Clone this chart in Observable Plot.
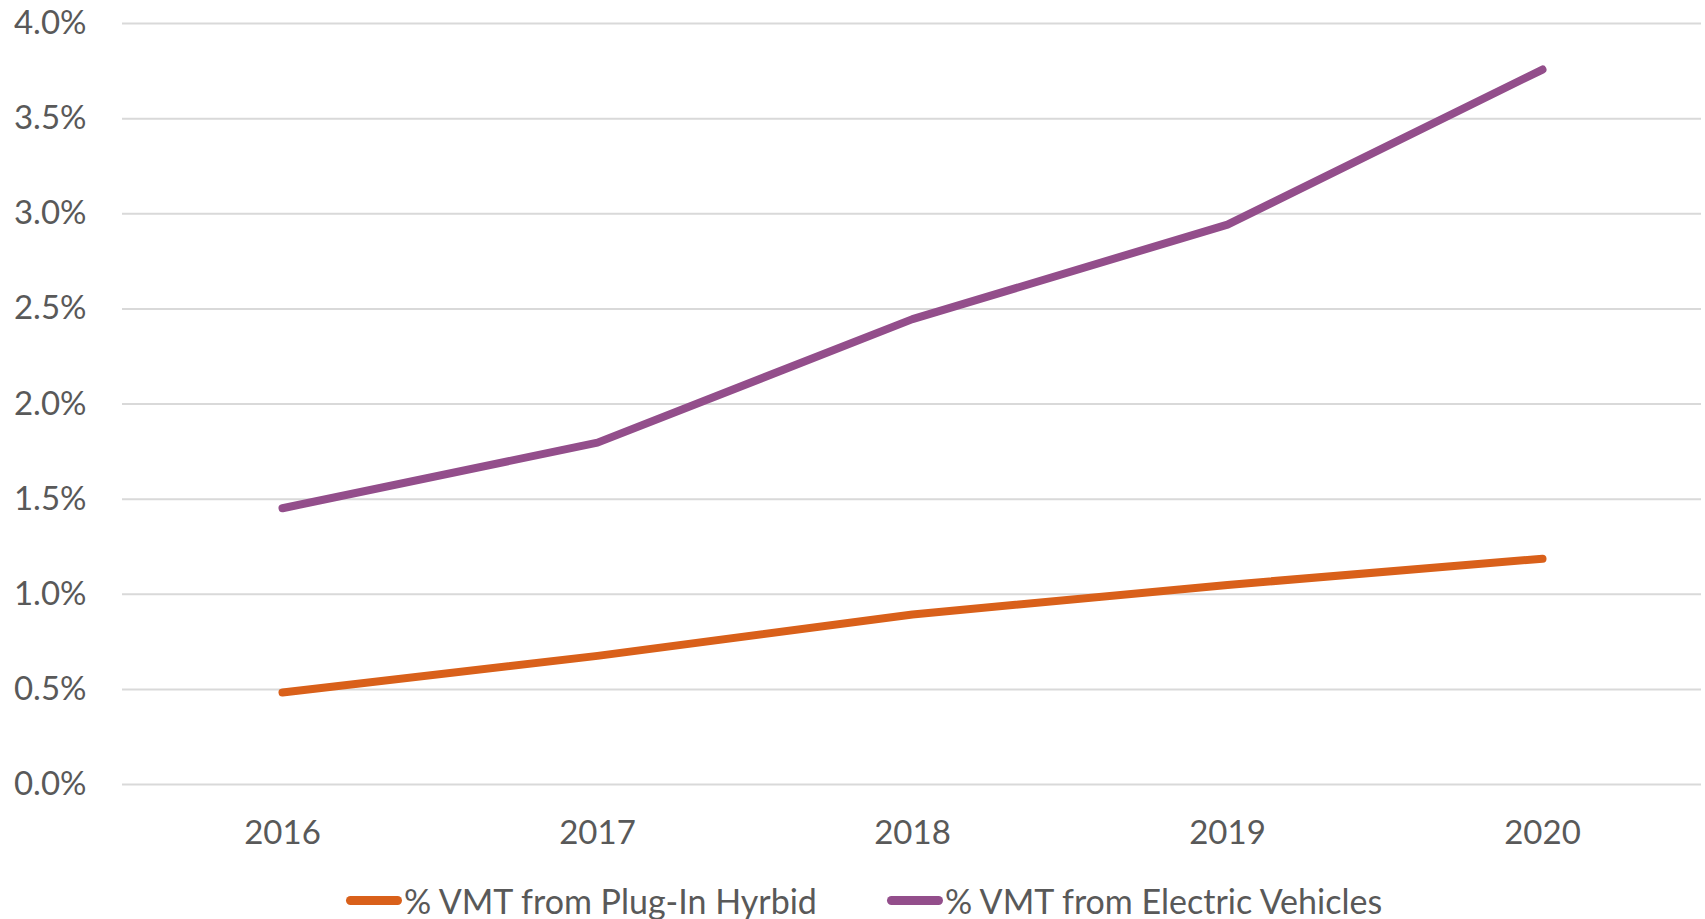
<!DOCTYPE html>
<html>
<head>
<meta charset="utf-8">
<script src="https://cdn.jsdelivr.net/npm/d3@7"></script>
<script src="https://cdn.jsdelivr.net/npm/@observablehq/plot@0.6"></script>
<style>
  html, body { margin: 0; padding: 0; background: #fff; }
  #chart { position: relative; width: 1705px; height: 919px; font-family: Lato, "Open Sans", sans-serif; }
  #legend { position: absolute; left: 346px; top: 877px; height: 46px; display: flex; align-items: center; font-size: 34px; color: #595959; white-space: nowrap; }
  .item { display: flex; align-items: center; margin-right: 70px; }
  .sw { width: 56px; height: 9px; border-radius: 5px; margin-right: 2px; }
</style>
</head>
<body>
<div id="chart"><div id="legend"></div></div>
<script>
const years = ["2016", "2017", "2018", "2019", "2020"];
const seriesNames = ["% VMT from Plug-In Hyrbid", "% VMT from Electric Vehicles"];
const hybridPct = [0.484, 0.676, 0.894, 1.049, 1.187];
const electricPct = [1.452, 1.797, 2.446, 2.943, 3.758];
const yTicks = [0, 0.5, 1.0, 1.5, 2.0, 2.5, 3.0, 3.5, 4.0];
const colors = ["#D9601A", "#934E8B"];

const rows = [];
years.forEach((yr, i) => {
  rows.push({year: yr, value: hybridPct[i], series: seriesNames[0]});
  rows.push({year: yr, value: electricPct[i], series: seriesNames[1]});
});

const chart = Plot.plot({
  width: 1705,
  height: 864,
  marginLeft: 122,
  marginRight: 4,
  marginTop: 23,
  marginBottom: 80,
  style: {fontFamily: "Lato, 'Open Sans', sans-serif", fontSize: "33px", color: "#595959", background: "#fff"},
  x: {type: "point", domain: years, padding: 0.5, label: null},
  y: {domain: [0, 4], label: null},
  color: {domain: seriesNames, range: colors},
  marks: [
    Plot.ruleY(yTicks, {stroke: "#D9D9D9", strokeWidth: 2}),
    Plot.axisY(yTicks, {tickSize: 0, tickPadding: 36, tickFormat: d => d.toFixed(1) + "%", fill: "#595959", label: null}),
    Plot.axisX({tickSize: 0, tickPadding: 36, fill: "#595959", label: null}),
    Plot.line(rows, {x: "year", y: "value", z: "series", stroke: "series", strokeWidth: 8, strokeLinecap: "round", strokeLinejoin: "round"})
  ]
});
document.getElementById("chart").prepend(chart);

const legend = document.getElementById("legend");
seriesNames.forEach((name, i) => {
  const item = document.createElement("div");
  item.className = "item";
  const sw = document.createElement("div");
  sw.className = "sw";
  sw.style.background = colors[i];
  const t = document.createElement("span");
  t.textContent = name;
  item.appendChild(sw);
  item.appendChild(t);
  legend.appendChild(item);
});
</script>
</body>
</html>
